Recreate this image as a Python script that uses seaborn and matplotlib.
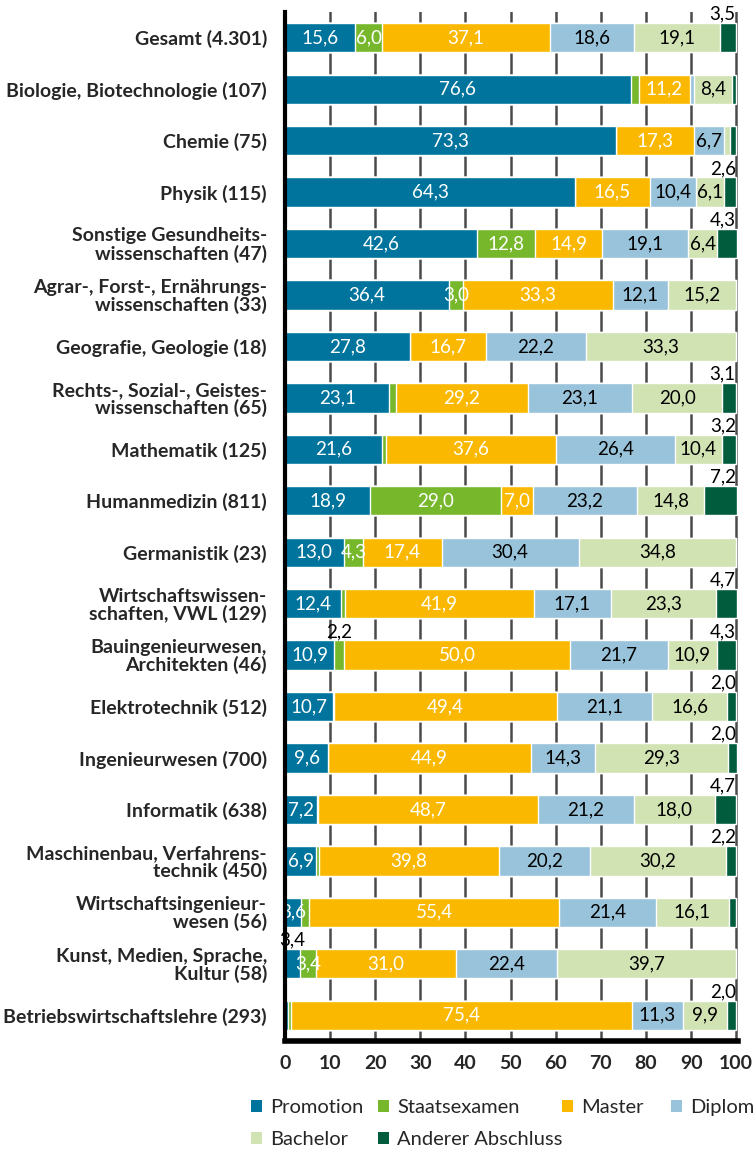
import numpy as np
import pandas as pd
import matplotlib
matplotlib.use('Agg')
import matplotlib.pyplot as plt
from matplotlib.patches import Patch
import seaborn as sns

categories = [
    "Gesamt (4.301)",
    "Biologie, Biotechnologie (107)",
    "Chemie (75)",
    "Physik (115)",
    "Sonstige Gesundheits-\nwissenschaften (47)",
    "Agrar-, Forst-, Ernährungs-\nwissenschaften (33)",
    "Geografie, Geologie (18)",
    "Rechts-, Sozial-, Geistes-\nwissenschaften (65)",
    "Mathematik (125)",
    "Humanmedizin (811)",
    "Germanistik (23)",
    "Wirtschaftswissen-\nschaften, VWL (129)",
    "Bauingenieurwesen,\nArchitekten (46)",
    "Elektrotechnik (512)",
    "Ingenieurwesen (700)",
    "Informatik (638)",
    "Maschinenbau, Verfahrens-\ntechnik (450)",
    "Wirtschaftsingenieur-\nwesen (56)",
    "Kunst, Medien, Sprache,\nKultur (58)",
    "Betriebswirtschaftslehre (293)",
]

promotion = [15.6, 76.6, 73.3, 64.3, 42.6, 36.4, 27.8, 23.1, 21.6, 18.9,
             13.0, 12.4, 10.9, 10.7, 9.6, 7.2, 6.9, 3.6, 3.4, 0.7]
staatsexamen = [6.0, 1.9, 0.0, 0.0, 12.8, 3.0, 0.0, 1.5, 0.8, 29.0,
                4.3, 0.8, 2.2, 0.2, 0.0, 0.2, 0.7, 1.8, 3.4, 0.7]
master = [37.1, 11.2, 17.3, 16.5, 14.9, 33.3, 16.7, 29.2, 37.6, 7.0,
          17.4, 41.9, 50.0, 49.4, 44.9, 48.7, 39.8, 55.4, 31.0, 75.4]
diplom = [18.6, 0.9, 6.7, 10.4, 19.1, 12.1, 22.2, 23.1, 26.4, 23.2,
          30.4, 17.1, 21.7, 21.1, 14.3, 21.2, 20.2, 21.4, 22.4, 11.3]
bachelor = [19.1, 8.4, 1.3, 6.1, 6.4, 15.2, 33.3, 20.0, 10.4, 14.8,
            34.8, 23.3, 10.9, 16.6, 29.3, 18.0, 30.2, 16.1, 39.7, 9.9]
anderer = [3.5, 0.9, 1.3, 2.6, 4.3, 0.0, 0.0, 3.1, 3.2, 7.2,
           0.0, 4.7, 4.3, 2.0, 2.0, 4.7, 2.2, 1.7, 0.0, 2.0]

series_names = ["Promotion", "Staatsexamen", "Master", "Diplom", "Bachelor", "Anderer Abschluss"]
series_values = [promotion, staatsexamen, master, diplom, bachelor, anderer]
colors = ["#00749c", "#77b72b", "#fab900", "#98c3da", "#d2e3b3", "#005c3d"]
text_colors = ["white", "white", "white", "black", "black", "black"]
# labels that sit above the bar instead of inside: (row, series)
above_labels = {(12, 1), (18, 0)}

sns.set_style("white")
plt.rcParams['font.family'] = ['Lato', 'DejaVu Sans']

df = pd.DataFrame(dict(zip(series_names, series_values)), index=categories)
cum = df.cumsum(axis=1)

fig = plt.figure(figsize=(7.55, 11.54), dpi=100)
ax = fig.add_axes([285 / 755, 1 - 1041 / 1154, 453 / 755, (1041 - 12) / 1154])

bar_h = 0.57
for name, col in reversed(list(zip(series_names, colors))):
    d = pd.DataFrame({"cat": categories, "val": cum[name].values})
    sns.barplot(data=d, x="val", y="cat", color=col, orient="h", width=bar_h,
                saturation=1, ax=ax, zorder=2)

ax.set_xlim(0, 100.4)
ax.set_ylim(len(categories) - 0.5, -0.5)
ax.set_axisbelow(True)
ax.xaxis.grid(True, color="#4a4a4a", lw=1.8, zorder=0)
ax.yaxis.grid(False)


def fmt(v):
    return f"{v:.1f}".replace(".", ",")


lab_fs = 13.5
for i in range(len(categories)):
    left = 0.0
    for s, name in enumerate(series_names):
        v = df.iloc[i, s]
        if s == 5:
            if v >= 2:
                ax.text(99.9, i - bar_h / 2 - 0.01, fmt(v), ha="right", va="bottom",
                        fontsize=lab_fs, color="black")
        elif (i, s) in above_labels:
            ax.text(left + v / 2, i - bar_h / 2 - 0.01, fmt(v), ha="center", va="bottom",
                    fontsize=lab_fs, color="black")
        elif v >= 3:
            ax.text(left + v / 2, i, fmt(v), ha="center", va="center",
                    fontsize=lab_fs, color=text_colors[s])
        left += v

ax.set_xticks(np.arange(0, 101, 10))
ax.set_xticklabels([str(t) for t in range(0, 101, 10)], fontsize=14, fontweight="bold")
ax.tick_params(axis="x", length=0, pad=10)
ax.set_yticks(range(len(categories)))
ax.set_yticklabels(categories, fontsize=14, fontweight="bold", linespacing=1.0)
ax.tick_params(axis="y", which="major", length=0, pad=13)
ax.set_yticks(np.arange(-0.5, len(categories)), minor=True)
ax.tick_params(axis="y", which="minor", length=8, width=2.5, color="black")
ax.set_xlabel("")
ax.set_ylabel("")

for sp in ["top", "right"]:
    ax.spines[sp].set_visible(False)
ax.spines["left"].set_linewidth(3)
ax.spines["left"].set_color("black")
ax.spines["bottom"].set_linewidth(4)
ax.spines["bottom"].set_color("black")
ax.spines["left"].set_zorder(5)
ax.spines["bottom"].set_zorder(5)

# legend: four columns at the reference's positions
legend_cols = [[0, 4], [1, 5], [2], [3]]
legend_x = [251, 378, 562, 671]
for cols, x0 in zip(legend_cols, legend_x):
    handles = [Patch(facecolor=colors[k], edgecolor="none") for k in cols]
    labels = [series_names[k] for k in cols]
    fig.legend(handles, labels, ncol=1, loc="upper left",
               bbox_to_anchor=(x0 / 755, 1 - 1099 / 1154), frameon=False,
               fontsize=14.5, handlelength=0.55, handleheight=0.55, handletextpad=0.4,
               labelspacing=0.75, borderpad=0, borderaxespad=0)

fig.savefig("out.png", dpi=100)
